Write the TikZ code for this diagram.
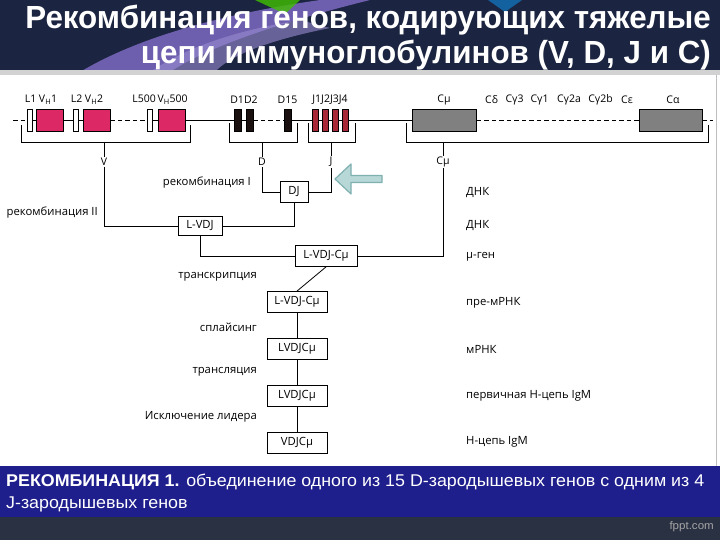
\documentclass[tikz,border=0pt]{standalone}
\usepackage{fontspec}
\setmainfont{Open Sans}
\newfontfamily\titlefont[FakeStretch=0.98]{Liberation Sans}
\newfontfamily\capfont[FakeStretch=1.05]{Liberation Sans}
\newfontfamily\diagfont{Open Sans}
\usetikzlibrary{positioning}

\definecolor{navy}{HTML}{1B2440}
\definecolor{lilac}{HTML}{6E5EAE}
\definecolor{lilaclight}{HTML}{9A8CD2}
\definecolor{vpink}{HTML}{DC2864}
\definecolor{jred}{HTML}{A82838}
\definecolor{dblack}{HTML}{1A1010}
\definecolor{cgray}{HTML}{808080}
\definecolor{bandblue}{HTML}{1E1E8C}
\definecolor{footgray}{HTML}{2A3142}
\definecolor{arrowfill}{HTML}{B8D8D8}
\definecolor{arrowline}{HTML}{7FB0B0}

\begin{document}
\begin{tikzpicture}[x=1pt, y=-1pt,
  gene/.style={draw, line width=0.8pt, minimum height=22pt, inner sep=0pt},
  lgene/.style={gene, fill=white, minimum width=5pt},
  vgene/.style={gene, fill=vpink, minimum width=27pt},
  dgene/.style={gene, fill=dblack, minimum width=7pt},
  jgene/.style={gene, fill=jred, minimum width=5.5pt},
  cgene/.style={gene, fill=cgray, minimum width=64pt},
  seg/.style={font=\diagfont\fontsize{10.5}{12}\selectfont, inner sep=1pt},
  note/.style={font=\diagfont\fontsize{11.3}{13}\selectfont, inner sep=1pt},
  stage/.style={draw, line width=0.8pt, fill=white, minimum width=60pt,
    minimum height=21pt, inner sep=2pt, font=\diagfont\fontsize{11.3}{13}\selectfont},
  link/.style={line width=0.8pt},
  gap/.style={link, dash pattern=on 4.5pt off 3pt}]
\useasboundingbox (0,0) rectangle (720,540);

% slide background
\fill[navy] (0,0) rectangle (720,72);
\fill[lilac] (80,72) .. controls (150,30) and (250,10) .. (320,0) -- (370,0)
  .. controls (290,20) and (210,45) .. (170,72) -- cycle;
\fill[lilaclight, opacity=0.6] (150,72) .. controls (190,45) and (240,30) .. (300,20)
  -- (330,28) .. controls (270,40) and (230,55) .. (215,72) -- cycle;
\fill[green!50!olive, opacity=0.8] (255,0) -- (300,0) -- (285,14) -- cycle;
\fill[cyan!60!blue, opacity=0.7] (488,0) -- (522,0) -- (505,12) -- cycle;
\fill[gray!35] (0,70) rectangle (720,76);
\fill[white] (0,75) rectangle (720,466);
\draw[gray!50] (716.5,75) -- (716.5,466);
\fill[bandblue] (0,466) rectangle (720,517);
\fill[footgray] (0,517) rectangle (720,540);

\node[anchor=north east, align=right, text=white, inner sep=0pt,
  font=\titlefont\bfseries\fontsize{32}{35}\selectfont] (title) at (711,5)
  {Рекомбинация генов, кодирующих тяжелые\\цепи иммуноглобулинов (V, D, J и C)};

% germline genes
\node[lgene] (l1) at (29.5,120) {};
\node[vgene] (vh1) at (50,120) {};
\node[lgene] (l2) at (75.5,120) {};
\node[vgene] (vh2) at (96.5,120) {};
\node[lgene] (l500) at (150,120) {};
\node[vgene] (vh500) at (171.5,120) {};
\node[dgene] (d1) at (237.5,120) {};
\node[dgene] (d2) at (249.5,120) {};
\node[dgene] (d15) at (288,120) {};
\node[jgene] (j1) at (315.5,120) {};
\node[jgene] (j2) at (325.5,120) {};
\node[jgene] (j3) at (335.5,120) {};
\node[jgene] (j4) at (345.5,120) {};
\node[cgene] (cm) at (444.5,120) {};
\node[cgene, minimum width=63pt] (ca) at (670.5,120) {};
\coordinate (start) at (13,120);
\coordinate (stop) at (713,120);

\draw[gap] (start) -- (l1);
\draw[link] (l1) -- (vh1) -- (l2) -- (vh2);
\draw[gap] (vh2) -- (l500);
\draw[link] (l500) -- (vh500) -- (d1) -- (d2);
\draw[gap] (d2) -- (d15);
\draw[link] (d15) -- (j1) -- (j2) -- (j3) -- (j4) -- (cm);
\draw[gap] (cm) -- (ca);
\draw[gap] (ca) -- (stop);

\node[seg] (tl1) at (41,100) {L1 V\textsubscript{H}1};
\node[seg] (tl2) at (87,100) {L2 V\textsubscript{H}2};
\node[seg] (tl500) at (160,100) {L500\,V\textsubscript{H}500};
\node[seg] (td12) at (244,100) {D1D2};
\node[seg] (td15) at (287.5,100) {D15};
\node[seg] (tj) at (330,100) {J1J2J3J4};
\node[seg] (tcm) at (444,100) {Cμ};
\node[seg] (tcd) at (491.5,100) {Cδ};
\node[seg] (tcg3) at (514.5,100) {Cγ3};
\node[seg] (tcg1) at (539.5,100) {Cγ1};
\node[seg] (tcg2a) at (569,100) {Cγ2a};
\node[seg] (tcg2b) at (600.5,100) {Cγ2b};
\node[seg] (tce) at (627,100) {Cε};
\node[seg] (tca) at (673,100) {Cα};

% brackets
\draw[link] (21,125) |- (190,142) -- (190,125);
\draw[link] (229,123) |- (297,142) -- (297,123);
\draw[link] (308,123) |- (355,142) -- (355,123);
\draw[link] (406,123) |- (708,142) -- (708,125);

\node[seg] (v) at (104,162) {V};
\node[seg] (d) at (262,162) {D};
\node[seg] (j) at (331,162) {J};
\node[seg] (cmu) at (443,162) {Cμ};
\draw[link] (104,142) -- (v);
\draw[link] (262,142) -- (d);
\draw[link] (331,142) -- (j);
\draw[link] (443,142) -- (cmu);

% rearrangement
\node[stage, minimum width=28pt] (dj) at (294,192) {DJ};
\node[stage, minimum width=44pt, minimum height=19pt] (lvdj) at (200,226) {L-VDJ};
\node[stage, minimum width=62pt] (lvdjc) at (326,256) {L-VDJ-Cμ};
\node[stage] (pre) at (297,302) {L-VDJ-Cμ};
\node[stage, below=25pt of pre] (mrna) {LVDJCμ};
\node[stage, below=25pt of mrna] (prot) {LVDJCμ};
\node[stage, below=25pt of prot] (igm) {VDJCμ};

\draw[link] (d) |- (dj);
\draw[link] (j) |- (dj);
\draw[link] (v) |- (lvdj);
\draw[link] (dj) |- (lvdj);
\draw[link] (lvdj) |- (lvdjc);
\draw[link] (cmu) |- (lvdjc);
\draw[link] (lvdjc.south) -- (pre.north);
\draw[link] (pre) -- (mrna) -- (prot) -- (igm);

\node[note, anchor=east] (rec1) at (252,183) {рекомбинация I};
\node[note, anchor=east] (rec2) at (99,213) {рекомбинация II};
\node[note, anchor=east] (transc) at (258,277) {транскрипция};
\node[note, anchor=east] (splice) at (258,327) {сплайсинг};
\node[note, anchor=east] (transl) at (258,372) {трансляция};
\node[note, anchor=east] (excl) at (258,417) {Исключение лидера};

\node[note, anchor=west] (dna1) at (465,193) {ДНК};
\node[note, anchor=west] (dna2) at (465,226) {ДНК};
\node[note, anchor=west] (mugene) at (465,257) {μ-ген};
\node[note, anchor=west] (premrna) at (465,303) {пре-мРНК};
\node[note, anchor=west] (mrnalbl) at (465,349) {мРНК};
\node[note, anchor=west] (primary) at (465,396) {первичная Н-цепь IgM};
\node[note, anchor=west] (hchain) at (465,442) {Н-цепь IgM};

\filldraw[fill=arrowfill, draw=arrowline, line width=1.2pt, line join=round]
  (335,179) -- (351,164) -- (351,175.5) -- (382,175.5) -- (382,182.5)
  -- (351,182.5) -- (351,194) -- cycle;

% caption
\node[anchor=north west, align=left, text=white, inner sep=0pt,
  font=\capfont\fontsize{17}{22}\selectfont] (caption) at (6,474)
  {\textbf{РЕКОМБИНАЦИЯ 1.} объединение одного из 15 D-зародышевых генов с одним из 4\\J-зародышевых генов};
\node[anchor=east, text=gray!70, inner sep=0pt,
  font=\capfont\fontsize{11}{12}\selectfont] (fppt) at (714,527) {fppt.com};
\end{tikzpicture}
\end{document}
